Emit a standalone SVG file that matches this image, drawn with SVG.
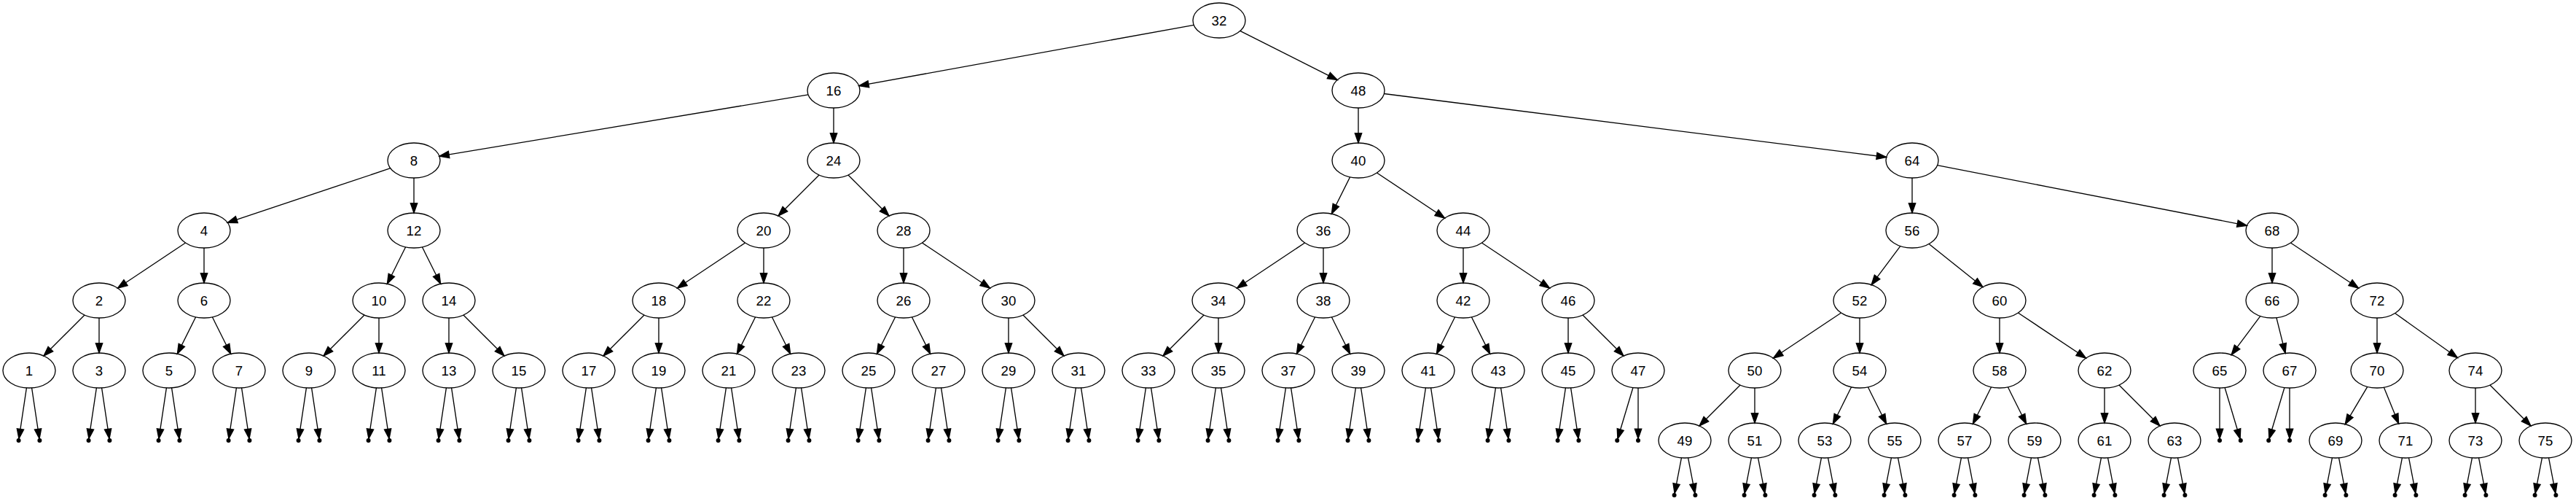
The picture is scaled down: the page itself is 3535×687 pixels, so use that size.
<svg xmlns="http://www.w3.org/2000/svg" width="3535" height="687" viewBox="0 0 3535 687">
<style>
.node ellipse{fill:none;stroke:#000;stroke-width:1.33}
.node text{font-family:"Liberation Sans",Arial,sans-serif;font-size:18.67px;text-anchor:middle;fill:#000}
.e{fill:none;stroke:#000;stroke-width:1.33;marker-end:url(#arr)}
.pt{fill:#000;stroke:#000;stroke-width:1.2}
</style>
<defs>
<marker id="arr" markerUnits="userSpaceOnUse" orient="auto" overflow="visible" refX="0" refY="0" markerWidth="1" markerHeight="1"><path d="M-13.33,-4.67L0,0L-13.33,4.67Z" fill="#000" stroke="#000" stroke-width="1.33"/></marker>
</defs>
<rect width="3535" height="687" fill="#fff"/>
<g id="connectors">
<path class="e" d="M1673 28m-34.74 6.3l-459.53 83.39"/>
<path class="e" d="M1673 28m28.75 14.45l133.51 67.1"/>
<path class="e" d="M1144 124m-34.93 5.82l-506.15 84.36"/>
<path class="e" d="M1144 124m0 24l0 48"/>
<path class="e" d="M1864 124m0 24l0 48"/>
<path class="e" d="M1864 124m35.37 4.47l689.26 87.06"/>
<path class="e" d="M568 220m-32.2 10.73l-223.6 74.53"/>
<path class="e" d="M568 220m0 24l0 48"/>
<path class="e" d="M1144 220m-19.97 19.97l-56.06 56.06"/>
<path class="e" d="M1144 220m19.97 19.97l56.06 56.06"/>
<path class="e" d="M1864 220m-11.38 22.77l-25.23 50.46"/>
<path class="e" d="M1864 220m25.46 16.97l93.09 62.06"/>
<path class="e" d="M2624 220m0 24l0 48"/>
<path class="e" d="M2624 220m34.56 6.72l424.88 82.57"/>
<path class="e" d="M280 316m-25.46 16.97l-93.09 62.06"/>
<path class="e" d="M280 316m0 24l0 48"/>
<path class="e" d="M568 316m-11.38 22.77l-25.23 50.46"/>
<path class="e" d="M568 316m11.38 22.77l25.23 50.46"/>
<path class="e" d="M1048 316m-25.46 16.97l-93.09 62.06"/>
<path class="e" d="M1048 316m0 24l0 48"/>
<path class="e" d="M1240 316m0 24l0 48"/>
<path class="e" d="M1240 316m25.46 16.97l93.09 62.06"/>
<path class="e" d="M1816 316m-25.46 16.97l-93.09 62.06"/>
<path class="e" d="M1816 316m0 24l0 48"/>
<path class="e" d="M2008 316m0 24l0 48"/>
<path class="e" d="M2008 316m25.46 16.97l93.09 62.06"/>
<path class="e" d="M2624 316m-16.1 21.47l-39.8 53.07"/>
<path class="e" d="M2624 316m23.05 18.44l73.91 59.13"/>
<path class="e" d="M3118 316m0 24l0 48"/>
<path class="e" d="M3118 316m25.46 16.97l93.09 62.06"/>
<path class="e" d="M136 412m-19.97 19.97l-56.06 56.06"/>
<path class="e" d="M136 412m0 24l0 48"/>
<path class="e" d="M280 412m-11.38 22.77l-25.23 50.46"/>
<path class="e" d="M280 412m11.38 22.77l25.23 50.46"/>
<path class="e" d="M520 412m-19.97 19.97l-56.06 56.06"/>
<path class="e" d="M520 412m0 24l0 48"/>
<path class="e" d="M616 412m0 24l0 48"/>
<path class="e" d="M616 412m19.97 19.97l56.06 56.06"/>
<path class="e" d="M904 412m-19.97 19.97l-56.06 56.06"/>
<path class="e" d="M904 412m0 24l0 48"/>
<path class="e" d="M1048 412m-11.38 22.77l-25.23 50.46"/>
<path class="e" d="M1048 412m11.38 22.77l25.23 50.46"/>
<path class="e" d="M1240 412m-11.38 22.77l-25.23 50.46"/>
<path class="e" d="M1240 412m11.38 22.77l25.23 50.46"/>
<path class="e" d="M1384 412m0 24l0 48"/>
<path class="e" d="M1384 412m19.97 19.97l56.06 56.06"/>
<path class="e" d="M1672 412m-19.97 19.97l-56.06 56.06"/>
<path class="e" d="M1672 412m0 24l0 48"/>
<path class="e" d="M1816 412m-11.38 22.77l-25.23 50.46"/>
<path class="e" d="M1816 412m11.38 22.77l25.23 50.46"/>
<path class="e" d="M2008 412m-11.38 22.77l-25.23 50.46"/>
<path class="e" d="M2008 412m11.38 22.77l25.23 50.46"/>
<path class="e" d="M2152 412m0 24l0 48"/>
<path class="e" d="M2152 412m19.97 19.97l56.06 56.06"/>
<path class="e" d="M2552 412m-25.46 16.97l-93.09 62.06"/>
<path class="e" d="M2552 412m0 24l0 48"/>
<path class="e" d="M2744 412m0 24l0 48"/>
<path class="e" d="M2744 412m25.46 16.97l93.09 62.06"/>
<path class="e" d="M3118 412m-16.1 21.47l-39.8 53.07"/>
<path class="e" d="M3118 412m5.92 23.67l12.16 48.65"/>
<path class="e" d="M3262 412m0 24l0 48"/>
<path class="e" d="M3262 412m24.62 17.51l85.76 60.98"/>
<path class="e" d="M2408 508m-19.97 19.97l-56.06 56.06"/>
<path class="e" d="M2408 508m0 24l0 48"/>
<path class="e" d="M2552 508m-11.38 22.77l-25.23 50.46"/>
<path class="e" d="M2552 508m11.38 22.77l25.23 50.46"/>
<path class="e" d="M2744 508m-11.38 22.77l-25.23 50.46"/>
<path class="e" d="M2744 508m11.38 22.77l25.23 50.46"/>
<path class="e" d="M2888 508m0 24l0 48"/>
<path class="e" d="M2888 508m19.97 19.97l56.06 56.06"/>
<path class="e" d="M3262 508m-13.25 22.32l-30.5 51.37"/>
<path class="e" d="M3262 508m9.41 23.17l20.18 49.67"/>
<path class="e" d="M3397 508m0 24l0 48"/>
<path class="e" d="M3397 508m19.97 19.97l56.06 56.06"/>
<path class="e" d="M40 508m-3.58 23.88l-10.46 69.75"/><path class="e" d="M40 508m3.58 23.88l10.46 69.75"/>
<path class="e" d="M136 508m-3.58 23.88l-10.46 69.75"/><path class="e" d="M136 508m3.58 23.88l10.46 69.75"/>
<path class="e" d="M232 508m-3.58 23.88l-10.46 69.75"/><path class="e" d="M232 508m3.58 23.88l10.46 69.75"/>
<path class="e" d="M328 508m-3.58 23.88l-10.46 69.75"/><path class="e" d="M328 508m3.58 23.88l10.46 69.75"/>
<path class="e" d="M424 508m-3.58 23.88l-10.46 69.75"/><path class="e" d="M424 508m3.58 23.88l10.46 69.75"/>
<path class="e" d="M520 508m-3.58 23.88l-10.46 69.75"/><path class="e" d="M520 508m3.58 23.88l10.46 69.75"/>
<path class="e" d="M616 508m-3.58 23.88l-10.46 69.75"/><path class="e" d="M616 508m3.58 23.88l10.46 69.75"/>
<path class="e" d="M712 508m-3.58 23.88l-10.46 69.75"/><path class="e" d="M712 508m3.58 23.88l10.46 69.75"/>
<path class="e" d="M808 508m-3.58 23.88l-10.46 69.75"/><path class="e" d="M808 508m3.58 23.88l10.46 69.75"/>
<path class="e" d="M904 508m-3.58 23.88l-10.46 69.75"/><path class="e" d="M904 508m3.58 23.88l10.46 69.75"/>
<path class="e" d="M1000 508m-3.58 23.88l-10.46 69.75"/><path class="e" d="M1000 508m3.58 23.88l10.46 69.75"/>
<path class="e" d="M1096 508m-3.58 23.88l-10.46 69.75"/><path class="e" d="M1096 508m3.58 23.88l10.46 69.75"/>
<path class="e" d="M1192 508m-3.58 23.88l-10.46 69.75"/><path class="e" d="M1192 508m3.58 23.88l10.46 69.75"/>
<path class="e" d="M1288 508m-3.58 23.88l-10.46 69.75"/><path class="e" d="M1288 508m3.58 23.88l10.46 69.75"/>
<path class="e" d="M1384 508m-3.58 23.88l-10.46 69.75"/><path class="e" d="M1384 508m3.58 23.88l10.46 69.75"/>
<path class="e" d="M1480 508m-3.58 23.88l-10.46 69.75"/><path class="e" d="M1480 508m3.58 23.88l10.46 69.75"/>
<path class="e" d="M1576 508m-3.58 23.88l-10.46 69.75"/><path class="e" d="M1576 508m3.58 23.88l10.46 69.75"/>
<path class="e" d="M1672 508m-3.58 23.88l-10.46 69.75"/><path class="e" d="M1672 508m3.58 23.88l10.46 69.75"/>
<path class="e" d="M1768 508m-3.58 23.88l-10.46 69.75"/><path class="e" d="M1768 508m3.58 23.88l10.46 69.75"/>
<path class="e" d="M1864 508m-3.58 23.88l-10.46 69.75"/><path class="e" d="M1864 508m3.58 23.88l10.46 69.75"/>
<path class="e" d="M1960 508m-3.58 23.88l-10.46 69.75"/><path class="e" d="M1960 508m3.58 23.88l10.46 69.75"/>
<path class="e" d="M2056 508m-3.58 23.88l-10.46 69.75"/><path class="e" d="M2056 508m3.58 23.88l10.46 69.75"/>
<path class="e" d="M2152 508m-3.58 23.88l-10.46 69.75"/><path class="e" d="M2152 508m3.58 23.88l10.46 69.75"/>
<path class="e" d="M2248 508m-7.06 23.53l-21.05 70.17"/><path class="e" d="M2248 508m0 24l0 69.6"/>
<path class="e" d="M3046 508m0 24l0 69.6"/><path class="e" d="M3046 508m7.06 23.53l21.05 70.17"/>
<path class="e" d="M3142 508m-7.06 23.53l-21.05 70.17"/><path class="e" d="M3142 508m0 24l0 69.6"/>
<path class="e" d="M2312 604m-4.57 23.81l-9.38 48.83"/><path class="e" d="M2312 604m4.57 23.81l9.38 48.83"/>
<path class="e" d="M2408 604m-4.57 23.81l-9.38 48.83"/><path class="e" d="M2408 604m4.57 23.81l9.38 48.83"/>
<path class="e" d="M2504 604m-4.57 23.81l-9.38 48.83"/><path class="e" d="M2504 604m4.57 23.81l9.38 48.83"/>
<path class="e" d="M2600 604m-4.57 23.81l-9.38 48.83"/><path class="e" d="M2600 604m4.57 23.81l9.38 48.83"/>
<path class="e" d="M2696 604m-4.57 23.81l-9.38 48.83"/><path class="e" d="M2696 604m4.57 23.81l9.38 48.83"/>
<path class="e" d="M2792 604m-4.57 23.81l-9.38 48.83"/><path class="e" d="M2792 604m4.57 23.81l9.38 48.83"/>
<path class="e" d="M2888 604m-4.57 23.81l-9.38 48.83"/><path class="e" d="M2888 604m4.57 23.81l9.38 48.83"/>
<path class="e" d="M2984 604m-4.57 23.81l-9.38 48.83"/><path class="e" d="M2984 604m4.57 23.81l9.38 48.83"/>
<path class="e" d="M3205 604m-4.57 23.81l-9.38 48.83"/><path class="e" d="M3205 604m4.57 23.81l9.38 48.83"/>
<path class="e" d="M3301 604m-4.57 23.81l-9.38 48.83"/><path class="e" d="M3301 604m4.57 23.81l9.38 48.83"/>
<path class="e" d="M3397 604m-4.57 23.81l-9.38 48.83"/><path class="e" d="M3397 604m4.57 23.81l9.38 48.83"/>
<path class="e" d="M3493 604m-4.57 23.81l-9.38 48.83"/><path class="e" d="M3493 604m4.57 23.81l9.38 48.83"/>
</g>
<g id="nodes">
<g id="n32" class="node"><ellipse cx="1673" cy="28" rx="36" ry="24"/><text x="1673" y="34.5">32</text></g>
<g id="n16" class="node"><ellipse cx="1144" cy="124" rx="36" ry="24"/><text x="1144" y="130.5">16</text></g>
<g id="n48" class="node"><ellipse cx="1864" cy="124" rx="36" ry="24"/><text x="1864" y="130.5">48</text></g>
<g id="n8" class="node"><ellipse cx="568" cy="220" rx="36" ry="24"/><text x="568" y="226.5">8</text></g>
<g id="n24" class="node"><ellipse cx="1144" cy="220" rx="36" ry="24"/><text x="1144" y="226.5">24</text></g>
<g id="n40" class="node"><ellipse cx="1864" cy="220" rx="36" ry="24"/><text x="1864" y="226.5">40</text></g>
<g id="n64" class="node"><ellipse cx="2624" cy="220" rx="36" ry="24"/><text x="2624" y="226.5">64</text></g>
<g id="n4" class="node"><ellipse cx="280" cy="316" rx="36" ry="24"/><text x="280" y="322.5">4</text></g>
<g id="n12" class="node"><ellipse cx="568" cy="316" rx="36" ry="24"/><text x="568" y="322.5">12</text></g>
<g id="n20" class="node"><ellipse cx="1048" cy="316" rx="36" ry="24"/><text x="1048" y="322.5">20</text></g>
<g id="n28" class="node"><ellipse cx="1240" cy="316" rx="36" ry="24"/><text x="1240" y="322.5">28</text></g>
<g id="n36" class="node"><ellipse cx="1816" cy="316" rx="36" ry="24"/><text x="1816" y="322.5">36</text></g>
<g id="n44" class="node"><ellipse cx="2008" cy="316" rx="36" ry="24"/><text x="2008" y="322.5">44</text></g>
<g id="n56" class="node"><ellipse cx="2624" cy="316" rx="36" ry="24"/><text x="2624" y="322.5">56</text></g>
<g id="n68" class="node"><ellipse cx="3118" cy="316" rx="36" ry="24"/><text x="3118" y="322.5">68</text></g>
<g id="n2" class="node"><ellipse cx="136" cy="412" rx="36" ry="24"/><text x="136" y="418.5">2</text></g>
<g id="n6" class="node"><ellipse cx="280" cy="412" rx="36" ry="24"/><text x="280" y="418.5">6</text></g>
<g id="n10" class="node"><ellipse cx="520" cy="412" rx="36" ry="24"/><text x="520" y="418.5">10</text></g>
<g id="n14" class="node"><ellipse cx="616" cy="412" rx="36" ry="24"/><text x="616" y="418.5">14</text></g>
<g id="n18" class="node"><ellipse cx="904" cy="412" rx="36" ry="24"/><text x="904" y="418.5">18</text></g>
<g id="n22" class="node"><ellipse cx="1048" cy="412" rx="36" ry="24"/><text x="1048" y="418.5">22</text></g>
<g id="n26" class="node"><ellipse cx="1240" cy="412" rx="36" ry="24"/><text x="1240" y="418.5">26</text></g>
<g id="n30" class="node"><ellipse cx="1384" cy="412" rx="36" ry="24"/><text x="1384" y="418.5">30</text></g>
<g id="n34" class="node"><ellipse cx="1672" cy="412" rx="36" ry="24"/><text x="1672" y="418.5">34</text></g>
<g id="n38" class="node"><ellipse cx="1816" cy="412" rx="36" ry="24"/><text x="1816" y="418.5">38</text></g>
<g id="n42" class="node"><ellipse cx="2008" cy="412" rx="36" ry="24"/><text x="2008" y="418.5">42</text></g>
<g id="n46" class="node"><ellipse cx="2152" cy="412" rx="36" ry="24"/><text x="2152" y="418.5">46</text></g>
<g id="n52" class="node"><ellipse cx="2552" cy="412" rx="36" ry="24"/><text x="2552" y="418.5">52</text></g>
<g id="n60" class="node"><ellipse cx="2744" cy="412" rx="36" ry="24"/><text x="2744" y="418.5">60</text></g>
<g id="n66" class="node"><ellipse cx="3118" cy="412" rx="36" ry="24"/><text x="3118" y="418.5">66</text></g>
<g id="n72" class="node"><ellipse cx="3262" cy="412" rx="36" ry="24"/><text x="3262" y="418.5">72</text></g>
<g id="n1" class="node"><ellipse cx="40" cy="508" rx="36" ry="24"/><text x="40" y="514.5">1</text></g>
<g id="n3" class="node"><ellipse cx="136" cy="508" rx="36" ry="24"/><text x="136" y="514.5">3</text></g>
<g id="n5" class="node"><ellipse cx="232" cy="508" rx="36" ry="24"/><text x="232" y="514.5">5</text></g>
<g id="n7" class="node"><ellipse cx="328" cy="508" rx="36" ry="24"/><text x="328" y="514.5">7</text></g>
<g id="n9" class="node"><ellipse cx="424" cy="508" rx="36" ry="24"/><text x="424" y="514.5">9</text></g>
<g id="n11" class="node"><ellipse cx="520" cy="508" rx="36" ry="24"/><text x="520" y="514.5">11</text></g>
<g id="n13" class="node"><ellipse cx="616" cy="508" rx="36" ry="24"/><text x="616" y="514.5">13</text></g>
<g id="n15" class="node"><ellipse cx="712" cy="508" rx="36" ry="24"/><text x="712" y="514.5">15</text></g>
<g id="n17" class="node"><ellipse cx="808" cy="508" rx="36" ry="24"/><text x="808" y="514.5">17</text></g>
<g id="n19" class="node"><ellipse cx="904" cy="508" rx="36" ry="24"/><text x="904" y="514.5">19</text></g>
<g id="n21" class="node"><ellipse cx="1000" cy="508" rx="36" ry="24"/><text x="1000" y="514.5">21</text></g>
<g id="n23" class="node"><ellipse cx="1096" cy="508" rx="36" ry="24"/><text x="1096" y="514.5">23</text></g>
<g id="n25" class="node"><ellipse cx="1192" cy="508" rx="36" ry="24"/><text x="1192" y="514.5">25</text></g>
<g id="n27" class="node"><ellipse cx="1288" cy="508" rx="36" ry="24"/><text x="1288" y="514.5">27</text></g>
<g id="n29" class="node"><ellipse cx="1384" cy="508" rx="36" ry="24"/><text x="1384" y="514.5">29</text></g>
<g id="n31" class="node"><ellipse cx="1480" cy="508" rx="36" ry="24"/><text x="1480" y="514.5">31</text></g>
<g id="n33" class="node"><ellipse cx="1576" cy="508" rx="36" ry="24"/><text x="1576" y="514.5">33</text></g>
<g id="n35" class="node"><ellipse cx="1672" cy="508" rx="36" ry="24"/><text x="1672" y="514.5">35</text></g>
<g id="n37" class="node"><ellipse cx="1768" cy="508" rx="36" ry="24"/><text x="1768" y="514.5">37</text></g>
<g id="n39" class="node"><ellipse cx="1864" cy="508" rx="36" ry="24"/><text x="1864" y="514.5">39</text></g>
<g id="n41" class="node"><ellipse cx="1960" cy="508" rx="36" ry="24"/><text x="1960" y="514.5">41</text></g>
<g id="n43" class="node"><ellipse cx="2056" cy="508" rx="36" ry="24"/><text x="2056" y="514.5">43</text></g>
<g id="n45" class="node"><ellipse cx="2152" cy="508" rx="36" ry="24"/><text x="2152" y="514.5">45</text></g>
<g id="n47" class="node"><ellipse cx="2248" cy="508" rx="36" ry="24"/><text x="2248" y="514.5">47</text></g>
<g id="n50" class="node"><ellipse cx="2408" cy="508" rx="36" ry="24"/><text x="2408" y="514.5">50</text></g>
<g id="n54" class="node"><ellipse cx="2552" cy="508" rx="36" ry="24"/><text x="2552" y="514.5">54</text></g>
<g id="n58" class="node"><ellipse cx="2744" cy="508" rx="36" ry="24"/><text x="2744" y="514.5">58</text></g>
<g id="n62" class="node"><ellipse cx="2888" cy="508" rx="36" ry="24"/><text x="2888" y="514.5">62</text></g>
<g id="n65" class="node"><ellipse cx="3046" cy="508" rx="36" ry="24"/><text x="3046" y="514.5">65</text></g>
<g id="n67" class="node"><ellipse cx="3142" cy="508" rx="36" ry="24"/><text x="3142" y="514.5">67</text></g>
<g id="n70" class="node"><ellipse cx="3262" cy="508" rx="36" ry="24"/><text x="3262" y="514.5">70</text></g>
<g id="n74" class="node"><ellipse cx="3397" cy="508" rx="36" ry="24"/><text x="3397" y="514.5">74</text></g>
<g id="n49" class="node"><ellipse cx="2312" cy="604" rx="36" ry="24"/><text x="2312" y="610.5">49</text></g>
<g id="n51" class="node"><ellipse cx="2408" cy="604" rx="36" ry="24"/><text x="2408" y="610.5">51</text></g>
<g id="n53" class="node"><ellipse cx="2504" cy="604" rx="36" ry="24"/><text x="2504" y="610.5">53</text></g>
<g id="n55" class="node"><ellipse cx="2600" cy="604" rx="36" ry="24"/><text x="2600" y="610.5">55</text></g>
<g id="n57" class="node"><ellipse cx="2696" cy="604" rx="36" ry="24"/><text x="2696" y="610.5">57</text></g>
<g id="n59" class="node"><ellipse cx="2792" cy="604" rx="36" ry="24"/><text x="2792" y="610.5">59</text></g>
<g id="n61" class="node"><ellipse cx="2888" cy="604" rx="36" ry="24"/><text x="2888" y="610.5">61</text></g>
<g id="n63" class="node"><ellipse cx="2984" cy="604" rx="36" ry="24"/><text x="2984" y="610.5">63</text></g>
<g id="n69" class="node"><ellipse cx="3205" cy="604" rx="36" ry="24"/><text x="3205" y="610.5">69</text></g>
<g id="n71" class="node"><ellipse cx="3301" cy="604" rx="36" ry="24"/><text x="3301" y="610.5">71</text></g>
<g id="n73" class="node"><ellipse cx="3397" cy="604" rx="36" ry="24"/><text x="3397" y="610.5">73</text></g>
<g id="n75" class="node"><ellipse cx="3493" cy="604" rx="36" ry="24"/><text x="3493" y="610.5">75</text></g>
</g>
<g id="null-points">
<g id="nil1"><circle class="pt" cx="25.6" cy="604" r="2.4"/><circle class="pt" cx="54.4" cy="604" r="2.4"/></g>
<g id="nil3"><circle class="pt" cx="121.6" cy="604" r="2.4"/><circle class="pt" cx="150.4" cy="604" r="2.4"/></g>
<g id="nil5"><circle class="pt" cx="217.6" cy="604" r="2.4"/><circle class="pt" cx="246.4" cy="604" r="2.4"/></g>
<g id="nil7"><circle class="pt" cx="313.6" cy="604" r="2.4"/><circle class="pt" cx="342.4" cy="604" r="2.4"/></g>
<g id="nil9"><circle class="pt" cx="409.6" cy="604" r="2.4"/><circle class="pt" cx="438.4" cy="604" r="2.4"/></g>
<g id="nil11"><circle class="pt" cx="505.6" cy="604" r="2.4"/><circle class="pt" cx="534.4" cy="604" r="2.4"/></g>
<g id="nil13"><circle class="pt" cx="601.6" cy="604" r="2.4"/><circle class="pt" cx="630.4" cy="604" r="2.4"/></g>
<g id="nil15"><circle class="pt" cx="697.6" cy="604" r="2.4"/><circle class="pt" cx="726.4" cy="604" r="2.4"/></g>
<g id="nil17"><circle class="pt" cx="793.6" cy="604" r="2.4"/><circle class="pt" cx="822.4" cy="604" r="2.4"/></g>
<g id="nil19"><circle class="pt" cx="889.6" cy="604" r="2.4"/><circle class="pt" cx="918.4" cy="604" r="2.4"/></g>
<g id="nil21"><circle class="pt" cx="985.6" cy="604" r="2.4"/><circle class="pt" cx="1014.4" cy="604" r="2.4"/></g>
<g id="nil23"><circle class="pt" cx="1081.6" cy="604" r="2.4"/><circle class="pt" cx="1110.4" cy="604" r="2.4"/></g>
<g id="nil25"><circle class="pt" cx="1177.6" cy="604" r="2.4"/><circle class="pt" cx="1206.4" cy="604" r="2.4"/></g>
<g id="nil27"><circle class="pt" cx="1273.6" cy="604" r="2.4"/><circle class="pt" cx="1302.4" cy="604" r="2.4"/></g>
<g id="nil29"><circle class="pt" cx="1369.6" cy="604" r="2.4"/><circle class="pt" cx="1398.4" cy="604" r="2.4"/></g>
<g id="nil31"><circle class="pt" cx="1465.6" cy="604" r="2.4"/><circle class="pt" cx="1494.4" cy="604" r="2.4"/></g>
<g id="nil33"><circle class="pt" cx="1561.6" cy="604" r="2.4"/><circle class="pt" cx="1590.4" cy="604" r="2.4"/></g>
<g id="nil35"><circle class="pt" cx="1657.6" cy="604" r="2.4"/><circle class="pt" cx="1686.4" cy="604" r="2.4"/></g>
<g id="nil37"><circle class="pt" cx="1753.6" cy="604" r="2.4"/><circle class="pt" cx="1782.4" cy="604" r="2.4"/></g>
<g id="nil39"><circle class="pt" cx="1849.6" cy="604" r="2.4"/><circle class="pt" cx="1878.4" cy="604" r="2.4"/></g>
<g id="nil41"><circle class="pt" cx="1945.6" cy="604" r="2.4"/><circle class="pt" cx="1974.4" cy="604" r="2.4"/></g>
<g id="nil43"><circle class="pt" cx="2041.6" cy="604" r="2.4"/><circle class="pt" cx="2070.4" cy="604" r="2.4"/></g>
<g id="nil45"><circle class="pt" cx="2137.6" cy="604" r="2.4"/><circle class="pt" cx="2166.4" cy="604" r="2.4"/></g>
<g id="nil47"><circle class="pt" cx="2219.2" cy="604" r="2.4"/><circle class="pt" cx="2248" cy="604" r="2.4"/></g>
<g id="nil65"><circle class="pt" cx="3046" cy="604" r="2.4"/><circle class="pt" cx="3074.8" cy="604" r="2.4"/></g>
<g id="nil67"><circle class="pt" cx="3113.2" cy="604" r="2.4"/><circle class="pt" cx="3142" cy="604" r="2.4"/></g>
<g id="nil49"><circle class="pt" cx="2297.6" cy="679" r="2.4"/><circle class="pt" cx="2326.4" cy="679" r="2.4"/></g>
<g id="nil51"><circle class="pt" cx="2393.6" cy="679" r="2.4"/><circle class="pt" cx="2422.4" cy="679" r="2.4"/></g>
<g id="nil53"><circle class="pt" cx="2489.6" cy="679" r="2.4"/><circle class="pt" cx="2518.4" cy="679" r="2.4"/></g>
<g id="nil55"><circle class="pt" cx="2585.6" cy="679" r="2.4"/><circle class="pt" cx="2614.4" cy="679" r="2.4"/></g>
<g id="nil57"><circle class="pt" cx="2681.6" cy="679" r="2.4"/><circle class="pt" cx="2710.4" cy="679" r="2.4"/></g>
<g id="nil59"><circle class="pt" cx="2777.6" cy="679" r="2.4"/><circle class="pt" cx="2806.4" cy="679" r="2.4"/></g>
<g id="nil61"><circle class="pt" cx="2873.6" cy="679" r="2.4"/><circle class="pt" cx="2902.4" cy="679" r="2.4"/></g>
<g id="nil63"><circle class="pt" cx="2969.6" cy="679" r="2.4"/><circle class="pt" cx="2998.4" cy="679" r="2.4"/></g>
<g id="nil69"><circle class="pt" cx="3190.6" cy="679" r="2.4"/><circle class="pt" cx="3219.4" cy="679" r="2.4"/></g>
<g id="nil71"><circle class="pt" cx="3286.6" cy="679" r="2.4"/><circle class="pt" cx="3315.4" cy="679" r="2.4"/></g>
<g id="nil73"><circle class="pt" cx="3382.6" cy="679" r="2.4"/><circle class="pt" cx="3411.4" cy="679" r="2.4"/></g>
<g id="nil75"><circle class="pt" cx="3478.6" cy="679" r="2.4"/><circle class="pt" cx="3507.4" cy="679" r="2.4"/></g>
</g>
</svg>
